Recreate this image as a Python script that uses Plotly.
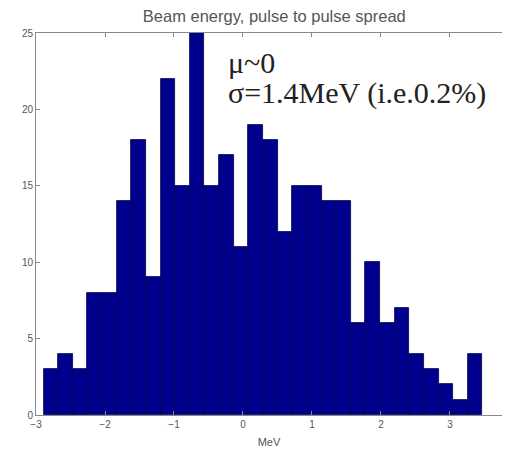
import plotly.graph_objects as go

# Histogram bin centres (MeV) and counts
bin_centers = [-2.784, -2.572, -2.360, -2.148, -1.936, -1.724, -1.512, -1.300, -1.088, -0.876,
               -0.664, -0.452, -0.240, -0.028, 0.184, 0.396, 0.608, 0.820, 1.032, 1.244,
               1.456, 1.668, 1.880, 2.092, 2.304, 2.516, 2.728, 2.940, 3.152, 3.364]
counts = [3, 4, 3, 8, 8, 14, 18, 9, 22, 15,
          25, 15, 17, 11, 19, 18, 12, 15, 15, 14,
          14, 6, 10, 6, 7, 4, 3, 2, 1, 4]
bin_width = 0.212
x_ticks = [-3, -2, -1, 0, 1, 2, 3]
y_ticks = [0, 5, 10, 15, 20, 25]

fig = go.Figure()
fig.add_trace(go.Bar(
    x=bin_centers, y=counts, width=bin_width,
    marker=dict(color="#00008c", line=dict(color="#000050", width=0.8)),
    showlegend=False,
))

# page body has an 8px default margin; size the figure so it fits the window
fig.update_layout(
    width=494, height=440,
    margin=dict(l=28, r=0, t=25, b=33),
    paper_bgcolor="white", plot_bgcolor="white",
    bargap=0,
    title=dict(text="Beam energy, pulse to pulse spread", x=0.539, xanchor="center",
               y=0.982, yanchor="middle",
               font=dict(family="Liberation Sans, Arial", size=16.5, color="#555555")),
    font=dict(family="Liberation Sans, Arial", size=10, color="#555555"),
)
fig.update_xaxes(range=[-3, 3.754], tickvals=x_ticks, ticks="inside", ticklen=4,
                 tickcolor="#888888", showline=True, linecolor="#888888", linewidth=1,
                 mirror="ticks", showgrid=False, zeroline=False,
                 title=dict(text="MeV", standoff=10,
                            font=dict(family="Liberation Sans, Arial", size=11, color="#555555")))
fig.update_yaxes(range=[0, 25], tickvals=y_ticks, ticks="inside", ticklen=4,
                 tickcolor="#888888", showline=True, linecolor="#888888", linewidth=1,
                 showgrid=False, zeroline=False)

fig.add_annotation(text="μ~0", xref="paper", yref="paper", x=0.408, y=0.924,
                   xanchor="left", yanchor="middle", showarrow=False,
                   font=dict(family="Liberation Serif, Times New Roman", size=30, color="#222222"))
fig.add_annotation(text="σ=1.4MeV (i.e.0.2%)", xref="paper", yref="paper", x=0.408, y=0.843,
                   xanchor="left", yanchor="middle", showarrow=False,
                   font=dict(family="Liberation Serif, Times New Roman", size=30, color="#222222"))

fig.write_html("out.html")
